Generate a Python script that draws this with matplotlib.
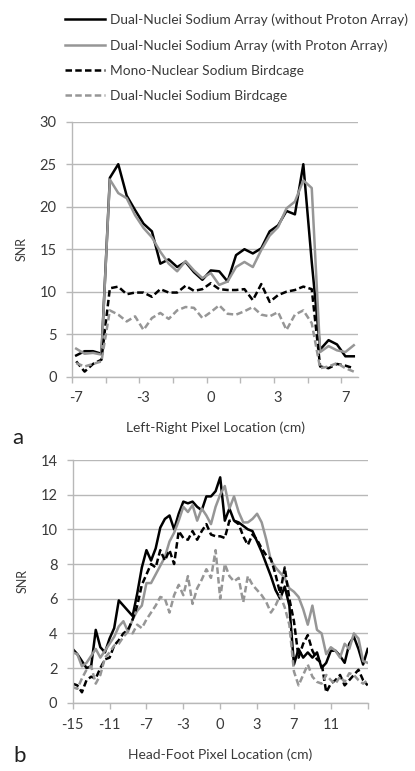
import numpy as np
import matplotlib
matplotlib.use('Agg')
import matplotlib.pyplot as plt

plt.rcParams['font.family'] = ['Lato', 'DejaVu Sans']

# --- Data: left-right profile (34 pixels) ---
LR_TICK_LABELS = ['-7', '-3', '0', '3', '7']
lr_dual_no_proton = [2.5, 3.0, 3.0, 2.7, 23.4, 25.0, 21.3, 19.6, 18.0, 17.1, 13.3, 13.8, 12.9, 13.5,
                     12.3, 11.4, 12.5, 12.4, 11.2, 14.3, 15.0, 14.5, 15.1, 17.1, 17.8, 19.5, 19.1, 25.0,
                     13.5, 3.2, 4.3, 3.8, 2.4, 2.4]
lr_dual_with_proton = [3.3, 2.7, 2.8, 2.6, 23.2, 21.6, 21.0, 19.0, 17.5, 16.4, 14.7, 13.3, 12.4, 13.6,
                       12.5, 11.6, 12.2, 10.8, 11.2, 12.9, 13.5, 12.9, 14.9, 16.6, 17.6, 19.8, 20.6, 23.1,
                       22.2, 2.9, 3.6, 3.1, 2.9, 3.7]
lr_mono_birdcage = [1.8, 0.6, 1.5, 2.0, 10.4, 10.6, 9.7, 9.9, 9.9, 9.4, 10.3, 9.9, 9.9, 10.7,
                    10.1, 10.3, 11.0, 10.3, 10.2, 10.2, 10.3, 9.0, 10.9, 8.8, 9.6, 10.0, 10.2, 10.6,
                    10.3, 1.2, 1.0, 1.5, 1.3, 1.0]
lr_dual_birdcage = [1.6, 1.2, 1.5, 1.8, 7.8, 7.3, 6.5, 7.1, 5.5, 6.9, 7.5, 6.8, 7.8, 8.2,
                    8.1, 6.9, 7.6, 8.4, 7.4, 7.3, 7.7, 8.2, 7.3, 7.1, 7.6, 5.5, 7.3, 7.8,
                    6.3, 1.0, 1.2, 1.6, 1.0, 0.6]

# --- Data: head-foot profile (65 pixels) ---
HF_TICK_LABELS = ['-15', '-11', '-7', '-3', '0', '3', '7', '11', '']
hf_dual_no_proton = [3.1, 2.8, 2.4, 2.0, 2.1, 4.2, 3.2, 2.9, 3.7, 4.3, 5.9, 5.6, 5.3, 5.0, 6.3, 7.8,
                     8.8, 8.2, 8.9, 10.1, 10.6, 10.8, 10.0, 10.9, 11.6, 11.5, 11.6, 11.3, 11.1, 11.9,
                     11.9, 12.2, 13.0, 10.5, 11.2, 10.5, 10.4, 10.2, 10.0, 9.9, 9.3, 8.7, 8.0, 7.3,
                     6.5, 6.0, 6.7, 5.6, 2.2, 3.1, 2.6, 2.9, 2.6, 2.9, 2.0, 2.3, 3.0, 3.0, 2.7, 2.3,
                     3.4, 3.8, 3.1, 2.2, 3.1]
hf_dual_with_proton = [2.9, 2.8, 2.1, 2.3, 2.7, 3.1, 2.6, 3.0, 3.4, 3.8, 4.4, 4.7, 4.1, 4.8, 5.3, 5.6,
                       6.9, 6.9, 7.4, 7.9, 8.4, 9.3, 9.8, 10.5, 11.3, 11.0, 11.4, 10.5, 11.2, 10.8,
                       10.3, 11.3, 12.0, 12.5, 11.2, 11.9, 11.0, 10.4, 10.4, 10.6, 10.9, 10.4, 9.4, 8.2,
                       7.8, 7.5, 7.2, 6.6, 6.4, 6.1, 5.4, 4.5, 5.6, 4.2, 4.0, 2.8, 3.2, 3.0, 2.6, 3.4,
                       3.1, 4.0, 3.7, 2.4, 2.3]
hf_mono_birdcage = [1.1, 1.0, 0.6, 1.3, 1.5, 1.4, 2.0, 2.5, 2.6, 3.3, 3.6, 4.0, 4.2, 4.8, 5.6, 6.8,
                    7.4, 8.0, 7.8, 8.8, 8.2, 8.8, 8.0, 9.9, 9.5, 9.4, 9.9, 9.4, 9.9, 10.3,
                    9.7, 9.6, 9.6, 9.5, 10.5, 10.5, 10.3, 9.6, 9.1, 9.7, 9.4, 8.9, 8.5, 8.3,
                    7.4, 6.3, 7.8, 6.0, 4.7, 2.6, 3.4, 3.9, 3.0, 2.5, 2.3, 0.6, 1.1, 1.3, 1.6, 1.0,
                    1.3, 1.6, 1.9, 1.3, 1.0]
hf_dual_birdcage = [0.9, 0.8, 1.4, 1.9, 2.1, 1.1, 1.6, 2.6, 2.9, 3.3, 3.4, 3.8, 4.1, 4.0, 4.5, 4.3,
                    4.8, 5.2, 5.6, 6.1, 6.0, 5.2, 6.2, 6.8, 6.2, 7.3, 5.7, 6.6, 7.1, 7.7,
                    7.2, 8.8, 6.0, 8.0, 7.3, 7.0, 7.2, 5.8, 7.3, 6.8, 6.5, 6.2, 5.8, 5.2,
                    5.6, 6.2, 5.5, 4.5, 1.8, 1.0, 1.6, 2.2, 1.5, 1.2, 1.1, 1.6, 1.3, 1.1, 1.5, 1.2,
                    1.7, 1.6, 1.3, 1.1, 1.3]

SERIES_NAMES = ['Dual-Nuclei Sodium Array (without Proton Array)',
                'Dual-Nuclei Sodium Array (with Proton Array)',
                'Mono-Nuclear Sodium Birdcage',
                'Dual-Nuclei Sodium Birdcage']

BLACK = '#000000'
GRAY = '#969696'
TEXT = '#3a3a3a'
GRID = '#b8b8b8'
LW = 1.8
DASH = (2.6, 1.3)
STYLES = [dict(color=BLACK, ls='-'), dict(color=GRAY, ls='-'),
          dict(color=BLACK, ls=(0, DASH)), dict(color=GRAY, ls=(0, DASH))]


def style_axes(ax):
    for s in ['top', 'right']:
        ax.spines[s].set_visible(False)
    for s in ['left', 'bottom']:
        ax.spines[s].set_color(GRID)
        ax.spines[s].set_linewidth(1.0)
    ax.yaxis.grid(True, color=GRID, lw=1.0)
    ax.set_axisbelow(True)
    ax.tick_params(axis='y', colors=GRID, labelcolor=TEXT, labelsize=10.5, length=4, width=1.0, pad=7)
    ax.tick_params(axis='x', which='major', colors=GRID, labelcolor=TEXT, labelsize=10.5,
                   length=4, width=1.0, pad=6)
    ax.set_ylabel('SNR', color=TEXT, fontsize=9)


fig = plt.figure(figsize=(4.15, 7.71), dpi=100)

# panel a
ax1 = fig.add_axes([72 / 415, 1 - 376.7 / 771, 286 / 415, 255 / 771])
x_lr = np.arange(len(lr_dual_no_proton))
for vals, st in zip([lr_dual_no_proton, lr_dual_with_proton, lr_mono_birdcage, lr_dual_birdcage], STYLES):
    ax1.plot(x_lr, vals, lw=LW, **st)
style_axes(ax1)
ax1.set_xlim(-0.5, len(x_lr) - 0.5)
ax1.set_ylim(0, 30)
ax1.set_yticks(np.arange(0, 31, 5))
ax1.set_xticks(np.arange(-0.5, len(x_lr) - 1, 4))
ax1.set_xticklabels([])
ax1.set_xticks(np.arange(0, len(x_lr), 8), minor=True)
ax1.set_xticklabels(LR_TICK_LABELS, minor=True)
ax1.tick_params(axis='x', which='minor', length=0, labelcolor=TEXT, labelsize=10.5, pad=10)
ax1.yaxis.set_label_coords(-0.154, 0.5)
ax1.set_xlabel('Left-Right Pixel Location (cm)', color=TEXT, fontsize=10)
ax1.xaxis.set_label_coords(0.5, -0.175)

# panel b
ax2 = fig.add_axes([72.7 / 415, 1 - 702.7 / 771, 295 / 415, 242.7 / 771])
x_hf = np.arange(len(hf_dual_no_proton))
for vals, st in zip([hf_dual_no_proton, hf_dual_with_proton, hf_mono_birdcage, hf_dual_birdcage], STYLES):
    ax2.plot(x_hf, vals, lw=LW, **st)
style_axes(ax2)
ax2.set_xlim(0, len(x_hf) - 1)
ax2.set_ylim(0, 14)
ax2.set_yticks(np.arange(0, 15, 2))
ax2.set_xticks(np.arange(0, len(x_hf), 8))
ax2.set_xticklabels(HF_TICK_LABELS)
ax2.tick_params(axis='x', pad=7)
ax2.yaxis.set_label_coords(-0.148, 0.5)
ax2.set_xlabel('Head-Foot Pixel Location (cm)', color=TEXT, fontsize=10)
ax2.xaxis.set_label_coords(0.5, -0.187)

fig.legend(ax1.lines, SERIES_NAMES, loc='upper left', bbox_to_anchor=(53 / 415, 1 - 1 / 771),
           frameon=False, fontsize=9.9, handlelength=2.9, handletextpad=0.35,
           labelspacing=0.95, labelcolor=TEXT)

fig.text(12 / 415, 1 - 438 / 771, 'a', fontsize=16, color='#202020', va='center', ha='left')
fig.text(13 / 415, 1 - 756 / 771, 'b', fontsize=16, color='#202020', va='center', ha='left')

fig.savefig('out.png', dpi=100)
